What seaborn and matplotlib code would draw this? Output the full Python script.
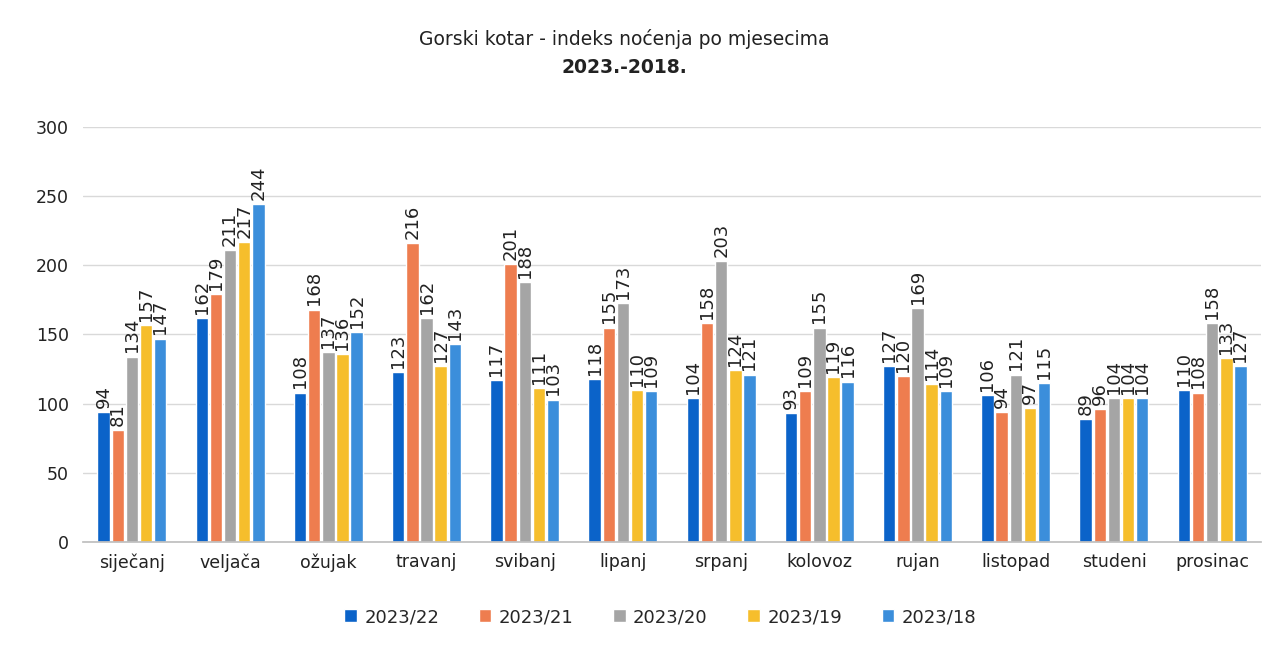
import matplotlib
matplotlib.use("Agg")
import matplotlib.pyplot as plt
import seaborn as sns
import pandas as pd

months = ["siječanj", "veljača", "ožujak", "travanj", "svibanj", "lipanj",
          "srpanj", "kolovoz", "rujan", "listopad", "studeni", "prosinac"]
series = ["2023/22", "2023/21", "2023/20", "2023/19", "2023/18"]
v_2023_22 = [94, 162, 108, 123, 117, 118, 104, 93, 127, 106, 89, 110]
v_2023_21 = [81, 179, 168, 216, 201, 155, 158, 109, 120, 94, 96, 108]
v_2023_20 = [134, 211, 137, 162, 188, 173, 203, 155, 169, 121, 104, 158]
v_2023_19 = [157, 217, 136, 127, 111, 110, 124, 119, 114, 97, 104, 133]
v_2023_18 = [147, 244, 152, 143, 103, 109, 121, 116, 109, 115, 104, 127]
colors = ["#0B63C9", "#EE7D4F", "#A5A5A5", "#F6BE2C", "#3B8EDB"]

values = [v_2023_22, v_2023_21, v_2023_20, v_2023_19, v_2023_18]
rows = []
for s, vals in zip(series, values):
    for m, v in zip(months, vals):
        rows.append({"mjesec": m, "serija": s, "indeks": v})
df = pd.DataFrame(rows)

sns.set_theme(style="white")
plt.rcParams['font.family'] = ['DejaVu Sans']

fig = plt.figure(figsize=(12.74, 6.53), dpi=100)
ax = fig.add_axes([0.065, 0.17, 0.925, 0.6355])

sns.barplot(data=df, x="mjesec", y="indeks", hue="serija", order=months,
            hue_order=series, palette=colors, width=0.72, gap=0.12,
            saturation=1, ax=ax, legend=True)

for cont in ax.containers:
    ax.bar_label(cont, labels=[f"{int(v)}" for v in cont.datavalues],
                 rotation=90, padding=3, fontsize=13, color="#222222", clip_on=False)

ax.set_ylim(0, 300)
ax.set_xlim(-0.5, 11.5)
ax.set_yticks([0, 50, 100, 150, 200, 250, 300])
ax.yaxis.grid(True, color="#D9D9D9", linewidth=1)
ax.set_axisbelow(True)
ax.set_xlabel("")
ax.set_ylabel("")
for sp in ["left", "right", "top"]:
    ax.spines[sp].set_visible(False)
ax.spines["bottom"].set_color("#BFBFBF")
ax.tick_params(axis="y", labelsize=12.5, colors="#222222", length=0, pad=10)
ax.tick_params(axis="x", labelsize=12.5, colors="#222222", length=0, pad=8)

handles, labels = ax.get_legend_handles_labels()
ax.legend(handles, labels, loc="upper center", bbox_to_anchor=(0.49, -0.12),
          ncol=5, frameon=False, fontsize=13, handlelength=0.7, handleheight=0.7,
          columnspacing=2.2, handletextpad=0.4)

fig.text(0.49, 0.94, "Gorski kotar - indeks noćenja po mjesecima", ha="center",
         va="center", fontsize=13.5, color="#222222")
fig.text(0.49, 0.897, "2023.-2018.", ha="center", va="center", fontsize=13.5,
         fontweight="bold", color="#222222")

fig.savefig("out.png", dpi=100)
